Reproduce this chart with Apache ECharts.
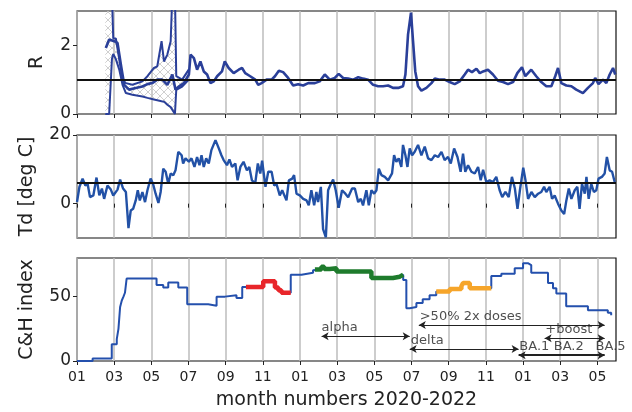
<!DOCTYPE html>
<html>
<head>
<meta charset="utf-8">
<script src="https://cdn.jsdelivr.net/npm/echarts@6/dist/echarts.min.js"></script>
<style>html,body{margin:0;padding:0;background:#fff;}#c{width:632px;height:412px;}</style>
</head>
<body>
<div id="c"></div>
<script>
// x values are months since 2020-01-01
var monthTicks = [0,2,4,6,8,10,12,14,16,18,20,22,24,26,28];
var monthLabels = ['01','03','05','07','09','11','01','03','05','07','09','11','01','03','05'];

// R (effective reproduction number)
var rData = [[1.55,1.92],[1.73,2.17],[2.0,2.12],[2.18,2.07],[2.36,1.44],[2.54,0.85],[2.80,0.71],[3.16,0.76],[3.52,0.80],[3.79,0.87],[4.05,0.90],[4.32,1.0],[4.59,1.0],[4.86,0.85],[5.13,1.15],[5.30,0.71],[5.48,0.8],[5.75,0.9],[6.02,1.15],[6.11,1.73],[6.29,1.63],[6.46,1.29],[6.64,1.53],[6.82,1.24],[7.0,1.15],[7.18,0.9],[7.36,0.95],[7.54,1.1],[7.80,1.24],[7.95,1.53],[8.16,1.34],[8.43,1.19],[8.70,1.29],[8.88,1.34],[9.05,1.19],[9.32,1.1],[9.59,1.0],[9.75,0.85],[9.93,0.9],[10.2,1.0],[10.47,1.0],[10.65,1.1],[10.86,1.26],[11.09,1.22],[11.36,1.05],[11.63,0.83],[11.9,0.87],[12.17,0.83],[12.44,0.9],[12.8,0.9],[13.06,0.95],[13.33,1.15],[13.6,1.0],[13.87,1.05],[14.08,1.17],[14.32,1.05],[14.59,1.03],[14.86,1.0],[15.13,1.07],[15.4,1.03],[15.66,1.0],[15.93,0.85],[16.2,0.81],[16.47,0.81],[16.74,0.83],[17.0,0.76],[17.28,0.76],[17.54,0.81],[17.67,1.15],[17.81,2.31],[17.97,2.95],[18.08,2.12],[18.2,1.24],[18.35,0.81],[18.53,0.68],[18.8,0.76],[19.07,0.9],[19.25,1.03],[19.52,1.0],[19.78,1.0],[20.05,0.93],[20.32,0.87],[20.59,0.95],[20.86,1.15],[21.04,1.29],[21.25,1.22],[21.49,1.32],[21.67,1.19],[21.85,1.24],[22.11,1.29],[22.38,1.15],[22.65,0.97],[22.92,0.93],[23.19,0.87],[23.46,0.93],[23.69,1.19],[23.94,1.36],[24.12,1.1],[24.44,1.29],[24.71,1.1],[24.98,0.93],[25.25,0.81],[25.52,0.81],[25.73,1.1],[25.88,1.34],[26.06,0.9],[26.33,0.83],[26.6,0.81],[26.86,0.71],[27.22,0.61],[27.49,0.76],[27.76,0.9],[27.88,1.05],[28.06,0.87],[28.3,1.0],[28.48,0.9],[28.66,1.15],[28.84,1.34],[28.96,1.15]];
// R uncertainty band (early 2020)
var bandM  = [1.52,1.73,1.77,1.88,1.95,2.09,2.27,2.45,2.63,2.98,3.52,3.79,4.14,4.32,4.55,4.68,4.86,5.04,5.13,5.27,5.34,5.66,6.02];
var bandLo = [0,0,0,1.6,1.75,1.6,1.3,0.85,0.61,0.56,0.51,0.47,0.42,0.40,0.37,0.36,0.27,0.2,0.15,0,0.7,0.8,1.0];
var bandHi = [3.5,3.5,3.5,3.5,2.2,2.2,1.6,1.0,0.9,0.85,0.95,1.1,1.34,1.39,2.12,1.53,1.73,2.12,3.5,3.5,1.1,1.0,1.3];
var rRef = 1;

// Td (dew point temperature)
var tdData = [[0,0.5],[0.13,4.85],[0.3,7.3],[0.45,5.3],[0.57,5.8],[0.7,1.9],[0.88,2.4],[1.05,7.6],[1.2,2.4],[1.34,4.4],[1.46,1.4],[1.64,5.3],[1.82,4.1],[1.95,2.4],[2.18,4.1],[2.32,7.0],[2.48,4.4],[2.63,3.4],[2.77,-7.1],[2.89,-2.0],[3.02,-1.5],[3.16,0.95],[3.27,3.9],[3.38,0.95],[3.52,3.4],[3.66,0.45],[3.79,3.9],[3.96,7.3],[4.09,5.8],[4.23,2.9],[4.38,0.2],[4.5,3.4],[4.64,10.2],[4.77,9.3],[4.91,5.8],[5.04,8.8],[5.18,8.3],[5.3,9.7],[5.45,15.1],[5.63,14.1],[5.71,11.7],[5.84,13.2],[6.02,12.2],[6.16,13.2],[6.32,10.7],[6.46,13.6],[6.59,11.2],[6.7,14.1],[6.82,10.7],[6.95,13.2],[7.09,11.7],[7.23,15.6],[7.45,18.5],[7.63,16.1],[7.77,14.1],[7.89,12.7],[8.07,11.2],[8.2,12.9],[8.34,10.7],[8.52,11.7],[8.64,6.8],[8.79,10.7],[8.96,12.2],[9.14,9.7],[9.27,10.7],[9.41,6.8],[9.59,6.0],[9.73,11.7],[9.86,8.8],[9.96,12.5],[10.14,4.9],[10.29,9.3],[10.47,9.3],[10.61,5.3],[10.73,5.8],[10.91,2.4],[11.04,3.9],[11.27,0.95],[11.4,6.8],[11.58,7.3],[11.68,8.3],[11.81,2.9],[11.99,2.4],[12.17,1.4],[12.35,0.95],[12.47,-0.5],[12.61,3.9],[12.76,-0.5],[12.88,3.4],[12.97,0.45],[13.12,4.9],[13.24,-7.4],[13.39,-9.8],[13.51,3.9],[13.66,5.8],[13.78,7.0],[13.92,3.9],[14.08,-1.2],[14.26,3.9],[14.44,2.9],[14.59,1.9],[14.8,4.4],[14.95,4.4],[15.13,0.45],[15.27,1.4],[15.39,-0.5],[15.57,3.9],[15.7,-0.5],[15.84,3.9],[15.99,2.9],[16.11,3.9],[16.24,10.2],[16.38,8.3],[16.56,7.8],[16.74,6.8],[16.95,8.8],[17.06,14.1],[17.18,12.2],[17.31,13.2],[17.45,10.7],[17.54,17.1],[17.67,14.1],[17.78,10.7],[17.90,16.1],[18.03,14.1],[18.17,15.1],[18.35,17.1],[18.53,14.1],[18.71,16.6],[18.89,13.2],[19.07,12.7],[19.25,14.1],[19.43,13.6],[19.61,15.1],[19.78,12.7],[19.96,13.6],[20.11,11.7],[20.29,16.1],[20.47,13.6],[20.64,9.3],[20.77,14.6],[20.89,9.3],[21.04,11.2],[21.22,9.3],[21.4,8.8],[21.58,10.7],[21.72,6.8],[21.85,9.9],[22.02,6.3],[22.2,6.8],[22.38,6.3],[22.56,7.8],[22.74,3.9],[22.88,1.9],[23.05,3.4],[23.23,1.9],[23.40,7.8],[23.56,4.4],[23.7,-1.5],[23.83,3.9],[24.01,10.5],[24.13,6.8],[24.27,1.4],[24.45,3.4],[24.63,1.9],[24.81,2.9],[24.98,3.4],[25.13,4.9],[25.25,3.4],[25.43,4.9],[25.56,1.4],[25.7,2.4],[25.88,0.0],[26.06,-2.0],[26.21,-3.0],[26.33,0.95],[26.46,4.4],[26.6,1.4],[26.78,3.9],[26.92,4.9],[27.04,-1.5],[27.17,5.8],[27.32,2.9],[27.41,7.8],[27.53,1.4],[27.67,5.8],[27.81,3.4],[27.94,3.9],[28.06,7.3],[28.24,7.8],[28.39,8.8],[28.51,13.6],[28.66,9.7],[28.79,9.3],[28.93,6.3]];
var tdRef = 6.1;

// C&H index (step changes)
var chData = [[0,0],[0.84,2],[1.87,13],[2.14,17],[2.23,25],[2.32,42],[2.41,47],[2.5,50],[2.58,53],[2.67,64],[4.28,59],[4.64,57],[4.91,61],[5.45,57],[5.93,44],[7.06,43],[7.51,50],[7.96,51],[8.58,49],[8.89,57.5],[10.02,62],[10.65,57],[10.83,55],[11.0,53],[11.5,67],[12.08,68.5],[12.7,70.5],[12.8,71],[13.15,73.3],[13.3,71.5],[13.6,72],[13.96,69.5],[15.84,64.5],[17.0,65.5],[17.37,67],[17.55,63],[17.72,41],[17.9,42],[18.26,45],[18.6,48],[18.97,51],[19.33,54],[20.05,56],[20.68,58],[20.77,60.5],[21.13,56.5],[22.29,66],[22.83,67.8],[23.55,72],[24.0,76],[24.26,74.5],[24.44,68.5],[25.34,60.5],[25.61,56.5],[25.79,52.5],[26.32,42.5],[27.49,39.5],[28.56,37.5],[28.74,35.5]];
var chRed    = [[9.09,57.5],[10.02,62],[10.65,57],[10.83,55],[11.0,53],[11.5,53]];
var chGreen  = [[12.8,71],[13.15,73.3],[13.3,71.5],[13.6,72],[13.96,69.5],[15.84,64.5],[17.0,65.5],[17.37,67],[17.55,67]];
var chOrange = [[19.33,54],[20.05,56],[20.68,58],[20.77,60.5],[21.13,56.5],[22.29,56.5]];

// annotations: [label, startMonth, endMonth, y]
var arrows = [['alpha',13.16,17.9,19.3],['delta',17.9,23.76,9.4],['>50% 2x doses',18.39,28.39,27.9],['+boost',25.16,28.39,17.7]];
var baArrow = [23.76,28.39,4.5];
var notes = [['alpha',13.16,20.6],['delta',17.96,10.6],['>50% 2x doses',18.44,29.4],['+boost',25.2,19.0],['BA.1',23.8,5.9],['BA.2',25.65,5.9],['BA.5',27.9,5.9]];

var FONT = 'DejaVu Sans';
var BLUE_R = '#2a3f99', BLUE_T = '#2251a6', BLUE_C = '#2450ad';

var hatch = document.createElement('canvas');
hatch.width = 8; hatch.height = 8;
(function(){
  var g = hatch.getContext('2d');
  g.strokeStyle = '#c4c4c4'; g.lineWidth = 0.8;
  g.beginPath(); g.moveTo(0,0); g.lineTo(8,8); g.moveTo(8,0); g.lineTo(0,8); g.stroke();
})();

var chart = echarts.init(document.getElementById('c'), null, {renderer:'canvas'});

var grids = [
  {left:77, top:11, width:539, height:103},
  {left:77, top:135, width:539, height:103},
  {left:77, top:258, width:539, height:103}
].map(function(g){ return Object.assign({show:true, borderColor:'#111', borderWidth:1.2, backgroundColor:'transparent'}, g); });

function xAxis(i, showLabels){
  return {
    type:'value', gridIndex:i, min:0, max:29, interval:2,
    axisLine:{show:false},
    axisTick:{show:true, length:4, lineStyle:{color:'#222', width:1}, customValues: monthTicks},
    axisLabel:{show:showLabels, customValues: monthTicks, fontFamily:FONT, fontSize:14, color:'#222', margin:9,
      formatter:function(v){ var k = monthTicks.indexOf(v); return k>=0 ? monthLabels[k] : ''; }},
    splitLine:{show:true, lineStyle:{color:'#bdbdbd', width:1.5}},
    name: showLabels ? 'month numbers 2020-2022' : '',
    nameLocation:'middle', nameGap:30,
    nameTextStyle:{fontFamily:FONT, fontSize:19, color:'#222'}
  };
}
function yAxis(i, min, max, vals, name, gap){
  return {
    type:'value', gridIndex:i, min:min, max:max, interval:10,
    axisLine:{show:false},
    axisTick:{show:true, length:4, lineStyle:{color:'#222', width:1}, customValues: vals},
    axisLabel:{show:true, customValues: vals, fontFamily:FONT, fontSize:17, color:'#222', margin:6},
    splitLine:{show:false},
    name:name, nameLocation:'middle', nameRotate:90, nameGap:gap,
    nameTextStyle:{fontFamily:FONT, fontSize:19, color:'#222'}
  };
}
var yR = yAxis(0, 0, 3, [0,2], 'R', 30); yR.interval = 1;
var yT = yAxis(1, -10, 20, [0,20], 'Td [deg C]', 40);
var yC = yAxis(2, 0, 80, [0,50], 'C&H index', 40);

function refLine(v){
  return {silent:true, symbol:'none', label:{show:false}, lineStyle:{color:'#111', type:'solid', width:2}, data:[{yAxis:v}]};
}

var series = [
  {type:'custom', xAxisIndex:0, yAxisIndex:0, clip:true, silent:true, z:1,
   data:[[bandM[0], bandLo[0]]],
   renderItem:function(params, api){
     var pts = [];
     for (var i=0;i<bandM.length;i++) pts.push(api.coord([bandM[i], bandHi[i]]));
     for (var j=bandM.length-1;j>=0;j--) pts.push(api.coord([bandM[j], bandLo[j]]));
     return {type:'polygon', shape:{points:pts}, style:{fill:{image:hatch, repeat:'repeat'}, stroke:null}};
   }},
  {type:'line', xAxisIndex:0, yAxisIndex:0, showSymbol:false, symbol:'none',
   data: bandM.map(function(m,i){ return [m, bandLo[i]]; }),
   lineStyle:{color:BLUE_R, width:2}, z:2},
  {type:'line', xAxisIndex:0, yAxisIndex:0, showSymbol:false, symbol:'none',
   data: bandM.map(function(m,i){ return [m, bandHi[i]]; }),
   lineStyle:{color:BLUE_R, width:2}, z:2},
  {type:'line', xAxisIndex:0, yAxisIndex:0, showSymbol:false, symbol:'none', data:rData,
   lineStyle:{color:BLUE_R, width:2.6}, z:3, markLine: refLine(rRef)},
  {type:'line', xAxisIndex:1, yAxisIndex:1, showSymbol:false, symbol:'none', data:tdData,
   lineStyle:{color:BLUE_T, width:2.4}, z:3, markLine: refLine(tdRef)},
  {type:'line', xAxisIndex:2, yAxisIndex:2, showSymbol:false, symbol:'none', step:'end', data:chData,
   lineStyle:{color:BLUE_C, width:2}, z:3},
  {type:'line', xAxisIndex:2, yAxisIndex:2, showSymbol:false, symbol:'none', step:'end', data:chRed,
   lineStyle:{color:'#e8262a', width:4.5}, z:4},
  {type:'line', xAxisIndex:2, yAxisIndex:2, showSymbol:false, symbol:'none', step:'end', data:chGreen,
   lineStyle:{color:'#1e7b2c', width:4.5}, z:4},
  {type:'line', xAxisIndex:2, yAxisIndex:2, showSymbol:false, symbol:'none', step:'end', data:chOrange,
   lineStyle:{color:'#f6a52a', width:4.5}, z:4},
  {type:'scatter', xAxisIndex:2, yAxisIndex:2, symbolSize:0, silent:true, z:6,
   data: notes.map(function(n){ return {name:n[0], value:[n[1], n[2]]}; }),
   label:{show:true, formatter:'{b}', position:[0,0], align:'left', verticalAlign:'bottom',
     fontFamily:FONT, fontSize:13, color:'#222'},
   markLine:{silent:true, symbol:['arrow','arrow'], symbolSize:[6,7], label:{show:false},
     lineStyle:{color:'#222', type:'solid', width:1},
     data: arrows.map(function(a){ return [{coord:[a[1],a[3]]},{coord:[a[2],a[3]]}]; }).concat([
       [{coord:[baArrow[0],baArrow[2]], lineStyle:{width:2.2}},{coord:[baArrow[1],baArrow[2]]}]
     ])}
  }
];

chart.setOption({
  animation:false,
  backgroundColor:'#fff',
  grid: grids,
  xAxis: [xAxis(0,false), xAxis(1,false), xAxis(2,true)],
  yAxis: [yR, yT, yC],
  series: series
});
</script>
</body>
</html>
